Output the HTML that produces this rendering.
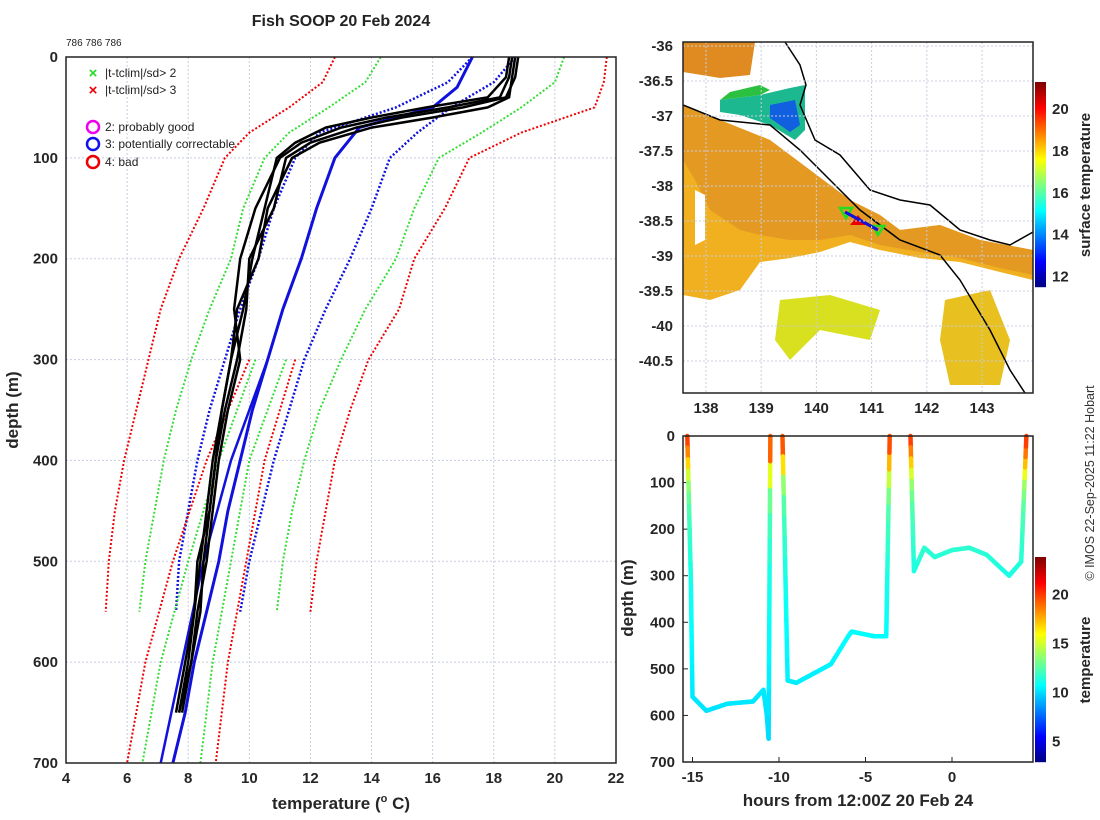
<!DOCTYPE html>
<html><head><meta charset="utf-8"><style>
body{margin:0;background:#fff;}
svg{display:block;font-family:"Liberation Sans",sans-serif;}
.tk{font-size:15px;font-weight:bold;fill:#262626;}
</style></head><body>
<svg id="s" width="1100" height="820" viewBox="0 0 1100 820" xmlns="http://www.w3.org/2000/svg">
<text x="341" y="26" text-anchor="middle" font-size="16" font-weight="bold" fill="#222">Fish SOOP 20 Feb 2024</text>
<text x="66" y="46" font-size="10" fill="#222">786 786 786</text>
<g id="left"></g>
<g id="map"></g>
<g id="track"></g>
<text transform="translate(1094,483) rotate(-90)" text-anchor="middle" font-size="12.5" fill="#333">© IMOS 22-Sep-2025 11:22 Hobart</text>
</svg>
<script>
const NS="http://www.w3.org/2000/svg";
function mk(p,t,a){const e=document.createElementNS(NS,t);for(const k in a)e.setAttribute(k,a[k]);p.appendChild(e);return e;}
function jet(v){v=Math.max(0,Math.min(1,v));const c=x=>Math.round(255*Math.max(0,Math.min(1,1.5-Math.abs(x))));return `rgb(${c(4*v-3)},${c(4*v-2)},${c(4*v-1)})`;}

// ---------- LEFT PLOT DATA ----------
const depths=[0,25,50,75,100,150,200,250,300,350,400,450,500,550];
const redRight=[21.7,21.6,21.3,18.9,17.2,16.4,15.4,14.9,13.9,13.3,12.8,12.5,12.2,12.0];
const redLeft=[12.8,12.4,11.3,10.0,9.2,8.5,7.7,7.1,6.7,6.3,5.9,5.6,5.4,5.3];
const greenRight=[20.3,20.0,18.9,17.6,16.2,15.4,14.8,13.8,13.0,12.3,11.8,11.4,11.1,10.9];
const greenLeft=[14.3,13.8,12.6,11.3,10.5,9.8,9.4,8.7,8.1,7.6,7.2,6.9,6.6,6.4];
const blueDotRight=[18.7,18.0,16.6,15.5,14.6,14.0,13.3,12.5,11.8,11.3,10.8,10.4,10.0,9.7];
const blueDotLeft=[17.3,16.5,14.8,12.3,11.5,10.8,10.3,9.7,9.2,8.7,8.3,8.0,7.7,7.6];
const deepDepths=[300,400,500,600,700];
const redDeepL=[10.0,8.6,7.5,6.6,6.0];
const greenDeepL=[10.2,9.0,8.0,7.1,6.5];
const blueDeepL=[10.6,9.4,8.5,7.8,7.1];
const greenDeepR=[11.2,10.0,9.4,8.8,8.4];
const redDeepR=[11.5,10.5,9.9,9.3,8.9];
const blueSolidD=[0,30,50,70,100,150,200,250,300,350,400,450,500,550,600,650,700];
const blueSolid=[17.3,16.8,16.0,13.6,12.8,12.2,11.7,11.1,10.6,10.1,9.7,9.3,9.0,8.6,8.2,7.9,7.5];
const obsD=[0,20,40,50,60,70,85,100,150,200,250,300,350,400,450,500,550,600,650];
const obs1=[18.7,18.6,18.5,17.8,16.0,14.0,12.3,11.4,10.6,10.3,9.6,9.4,9.1,8.8,8.6,8.4,8.2,7.9,7.6];
const obs2=[18.8,18.7,18.4,17.0,15.0,13.5,12.0,11.2,10.8,10.0,9.9,9.6,9.2,8.9,8.7,8.3,8.2,8.0,7.7];
const obs3=[18.6,18.5,18.2,16.5,14.5,13.0,11.7,11.0,10.2,9.7,9.5,9.7,9.3,9.0,8.8,8.6,8.3,8.1,7.8];
const obs4=[18.5,18.4,17.8,15.8,14.0,12.5,11.5,10.9,10.5,10.1,9.8,9.4,9.1,8.9,8.7,8.5,8.4,8.1,7.7];
const xTicksL=[4,6,8,10,12,14,16,18,20,22];
const yTicksL=[0,100,200,300,400,500,600,700];

const L={x0:66,x1:616,y0:57,y1:763};
const xL=t=>L.x0+(t-4)/18*(L.x1-L.x0);
const yL=d=>L.y0+d/700*(L.y1-L.y0);
const gl=document.getElementById('left');
for(const t of xTicksL){const g=mk(gl,'line',{x1:xL(t),x2:xL(t),y1:L.y0,y2:L.y1,stroke:'#c8cde0','stroke-dasharray':'2,2'});

const tx=mk(gl,'text',{x:xL(t),y:L.y1+20,'text-anchor':'middle',class:'tk'});tx.textContent=t;
}
for(const d of yTicksL){const g=mk(gl,'line',{x1:L.x0,x2:L.x1,y1:yL(d),y2:yL(d),stroke:'#c8cde0','stroke-dasharray':'2,2'});

const tx=mk(gl,'text',{x:L.x0-8,y:yL(d)+5,'text-anchor':'end',class:'tk'});tx.textContent=d;
}
function line(ts,ds,col,w,dash,name){const p=ts.map((t,i)=>`${i?'L':'M'}${xL(t).toFixed(1)},${yL(ds[i]).toFixed(1)}`).join('');
const e=mk(gl,'path',{d:p,fill:'none',stroke:col,'stroke-width':w});if(dash)e.setAttribute('stroke-dasharray',dash);
}
line(redRight,depths,'#e00','2','2,2','red-dotted-upper');
line(redLeft,depths,'#e00','2','2,2','red-dotted-lower');
line(greenRight,depths,'#3d3','2','2,2','green-dotted-upper');
line(greenLeft,depths,'#3d3','2','2,2','green-dotted-lower');
line(blueDotRight,depths,'#11d','2.5','2,2','blue-dotted-upper');
line(blueDotLeft,depths,'#11d','2.5','2,2','blue-dotted-lower');
line(redDeepL,deepDepths,'#e00','2','2,2','red-dotted-deep-lower');
line(greenDeepL,deepDepths,'#3d3','2','2,2','green-dotted-deep-lower');
line(blueDeepL,deepDepths,'#11d','2.5','','blue-solid-deep');
line(greenDeepR,deepDepths,'#3d3','2','2,2','green-dotted-deep-upper');
line(redDeepR,deepDepths,'#e00','2','2,2','red-dotted-deep-upper');
line(blueSolid,blueSolidD,'#11d','3','','blue-solid-mean');
[obs1,obs2,obs3,obs4].forEach(o=>line(o,obsD,'#000','2.5','','observed-profile'));
mk(gl,'rect',{x:L.x0,y:L.y0,width:L.x1-L.x0,height:L.y1-L.y0,fill:'none',stroke:'#222','stroke-width':1.5});
let tt=mk(gl,'text',{x:341,y:809,'text-anchor':'middle','font-size':17,'font-weight':'bold',fill:'#262626'});tt.innerHTML='temperature (<tspan font-size="11" dy="-7">o</tspan><tspan dy="7"> C)</tspan>';

tt=mk(gl,'text',{transform:'translate(18,410) rotate(-90)','text-anchor':'middle','font-size':17,'font-weight':'bold',fill:'#262626'});tt.textContent='depth (m)';

const lg=mk(gl,'g',{});
[['#2d2','|t-tclim|/sd> 2',73],['#e00','|t-tclim|/sd> 3',90]].forEach(a=>{
mk(lg,'text',{x:93,y:a[2]+5,'text-anchor':'middle','font-size':15,'font-weight':'bold',fill:a[0]}).textContent='×';
const t=mk(lg,'text',{x:105,y:a[2]+4,'font-size':12,fill:'#222'});t.textContent=a[1];
});
[['#e0e','2: probably good',127],['#11e','3: potentially correctable',144],['#e00','4: bad',162]].forEach(a=>{
mk(lg,'circle',{cx:93,cy:a[2],r:6,fill:'none',stroke:a[0],'stroke-width':2.5});
const t=mk(lg,'text',{x:105,y:a[2]+4,'font-size':12,fill:'#222'});t.textContent=a[1];
});

// ---------- MAP ----------
const gm=document.getElementById('map');
const lonTicks=[138,139,140,141,142,143];
const latTicks=[-36,-36.5,-37,-37.5,-38,-38.5,-39,-39.5,-40,-40.5];
const M={x0:683,x1:1033,y0:42,y1:393};
const xM=lo=>706+(lo-138)*55.2;
const yM=la=>46+(-36-la)*70;
const cl=mk(gm,'clipPath',{id:'mc'});mk(cl,'rect',{x:M.x0,y:M.y0,width:M.x1-M.x0,height:M.y1-M.y0});
const mg=mk(gm,'g',{'clip-path':'url(#mc)'});
function poly(pts,fill,name){const e=mk(mg,'polygon',{points:pts,fill:fill});}
poly('683,105 720,120 770,140 810,170 850,200 880,215 900,230 940,225 980,240 1033,250 1033,280 1000,272 960,262 920,258 880,250 850,242 820,252 790,258 760,262 740,290 710,300 683,295','#f0b020','sst-yellow-region');
poly('683,105 720,120 770,140 810,170 850,200 880,215 900,230 940,225 980,240 1033,250 1033,275 1000,268 960,258 920,252 880,245 850,235 820,240 790,240 760,235 740,230 710,210 695,180 683,160','#e49a22','sst-orange-region');
poly('683,42 755,42 750,75 720,78 683,72','#e08a22','sst-orange-north');
poly('720,100 760,95 790,88 805,85 805,130 795,140 770,125 740,115 720,112','#1cb890','sst-green-patch');
poly('770,105 795,100 800,125 790,132 770,118','#1160e0','sst-blue-patch');
poly('720,100 760,95 770,90 760,85 730,92','#2cc040','sst-green-edge');
poly('780,300 830,295 880,310 870,340 820,330 790,360 775,340','#d8e020','sst-yellow-patch-1');
poly('945,300 990,290 1010,340 1000,385 950,385 940,340','#e8c020','sst-yellow-patch-2');
poly('695,190 705,195 705,240 695,245','#fff','sst-gap');
mk(mg,'path',{d:'M785,42 L800,65 L806,85 L800,105 L815,140 L840,155 L870,190 L900,200 L930,205 L960,230 L990,240 L1010,245 L1033,232',fill:'none',stroke:'#000','stroke-width':1.5});
mk(mg,'path',{d:'M683,105 L720,120 L770,125 L800,150 L830,180 L860,210 L900,240 L940,255 L960,280 L990,330 L1010,370 L1025,393',fill:'none',stroke:'#000','stroke-width':1.5});
mk(mg,'polygon',{points:'840,208 852,208 846,218',fill:'none',stroke:'#2d2','stroke-width':2.5});
mk(mg,'polygon',{points:'858,215 866,225 850,225',fill:'#e00'});
mk(mg,'polygon',{points:'873,226 884,226 878,235',fill:'none',stroke:'#2d2','stroke-width':2.5});
mk(mg,'line',{x1:845,y1:212,x2:878,y2:230,stroke:'#11d','stroke-width':3});
for(const lo of lonTicks){const g=mk(gm,'line',{x1:xM(lo),x2:xM(lo),y1:M.y0,y2:M.y1,stroke:'#c8cde0','stroke-dasharray':'2,2'});

const t=mk(gm,'text',{x:xM(lo),y:M.y1+20,'text-anchor':'middle',class:'tk'});t.textContent=lo;
}
for(const la of latTicks){const g=mk(gm,'line',{x1:M.x0,x2:M.x1,y1:yM(la),y2:yM(la),stroke:'#c8cde0','stroke-dasharray':'2,2'});

const t=mk(gm,'text',{x:M.x0-10,y:yM(la)+5,'text-anchor':'end',class:'tk'});t.textContent=la;
}
mk(gm,'rect',{x:M.x0,y:M.y0,width:M.x1-M.x0,height:M.y1-M.y0,fill:'none',stroke:'#222','stroke-width':1.5});
const cb1Ticks=[12,14,16,18,20];
const cb1=v=>287-(v-11.5)/(21.3-11.5)*205;
for(let y=82;y<287;y++){mk(gm,'rect',{x:1035,y:y,width:11,height:1.2,fill:jet((287-y)/205)});}
for(const v of cb1Ticks){const t=mk(gm,'text',{x:1052,y:cb1(v)+5,class:'tk'});t.textContent=v;
}
tt=mk(gm,'text',{transform:'translate(1090,185) rotate(-90)','text-anchor':'middle','font-size':15,'font-weight':'bold',fill:'#262626'});tt.textContent='surface temperature';


// ---------- DEPTH-TIME ----------
const gt=document.getElementById('track');
const hours=[-15.3,-15.1,-15,-14.2,-13,-11.5,-10.9,-10.7,-10.6,-10.5,-9.8,-9.5,-9,-8,-7,-6,-5.8,-4.5,-3.8,-3.6,-2.4,-2.2,-1.6,-1,0,1,2,3.3,4,4.3];
const trackDepth=[0,300,560,590,575,570,545,600,650,0,0,525,530,510,490,430,420,430,430,0,0,290,240,260,245,240,255,300,270,0];
const segBreak=[9,19];
const colorDepth=[0,30,60,100,150,200,300,700];
const colorTemp=[20.5,19,17,14,12.5,12,11.2,9.8];
const xTicksT=[-15,-10,-5,0];
const yTicksT=[0,100,200,300,400,500,600,700];
const T={x0:683,x1:1033,y0:436,y1:762};
const xT=h=>952+h*17.3;
const yT=d=>T.y0+d/700*(T.y1-T.y0);
const tempAt=d=>{for(let i=1;i<colorDepth.length;i++){if(d<=colorDepth[i]){const f=(d-colorDepth[i-1])/(colorDepth[i]-colorDepth[i-1]);return colorTemp[i-1]+f*(colorTemp[i]-colorTemp[i-1]);}}return colorTemp[colorTemp.length-1];};
for(const h of xTicksT){const t=mk(gt,'text',{x:xT(h),y:T.y1+20,'text-anchor':'middle',class:'tk'});t.textContent=h;

mk(gt,'line',{x1:xT(h),x2:xT(h),y1:T.y1,y2:T.y1-5,stroke:'#222'});}
for(const d of yTicksT){const t=mk(gt,'text',{x:T.x0-8,y:yT(d)+5,'text-anchor':'end',class:'tk'});t.textContent=d;

mk(gt,'line',{x1:T.x0,x2:T.x0+5,y1:yT(d),y2:yT(d),stroke:'#222'});}
for(let i=1;i<hours.length;i++){if(segBreak.includes(i-1))continue;
const n=12;for(let k=0;k<n;k++){const f0=k/n,f1=(k+1)/n;
const h0=hours[i-1]+f0*(hours[i]-hours[i-1]),h1=hours[i-1]+f1*(hours[i]-hours[i-1]);
const d0=trackDepth[i-1]+f0*(trackDepth[i]-trackDepth[i-1]),d1=trackDepth[i-1]+f1*(trackDepth[i]-trackDepth[i-1]);
const col=jet((tempAt((d0+d1)/2)-2.9)/(23.8-2.9));
const e=mk(gt,'line',{x1:xT(h0),y1:yT(d0),x2:xT(h1),y2:yT(d1),stroke:col,'stroke-width':4.5,'stroke-linecap':'round'});
}}
mk(gt,'rect',{x:T.x0,y:T.y0,width:T.x1-T.x0,height:T.y1-T.y0,fill:'none',stroke:'#222','stroke-width':1.5});
tt=mk(gt,'text',{x:858,y:806,'text-anchor':'middle','font-size':17,'font-weight':'bold',fill:'#262626'});tt.textContent='hours from 12:00Z 20 Feb 24';

tt=mk(gt,'text',{transform:'translate(633,598) rotate(-90)','text-anchor':'middle','font-size':17,'font-weight':'bold',fill:'#262626'});tt.textContent='depth (m)';

const cb2Ticks=[5,10,15,20];
const cb2=v=>762-(v-2.9)/(23.8-2.9)*205;
for(let y=557;y<762;y++){mk(gt,'rect',{x:1035,y:y,width:11,height:1.2,fill:jet((762-y)/205)});}
for(const v of cb2Ticks){const t=mk(gt,'text',{x:1052,y:cb2(v)+5,class:'tk'});t.textContent=v;
}
tt=mk(gt,'text',{transform:'translate(1090,660) rotate(-90)','text-anchor':'middle','font-size':15,'font-weight':'bold',fill:'#262626'});tt.textContent='temperature';

</script>
</body></html>
